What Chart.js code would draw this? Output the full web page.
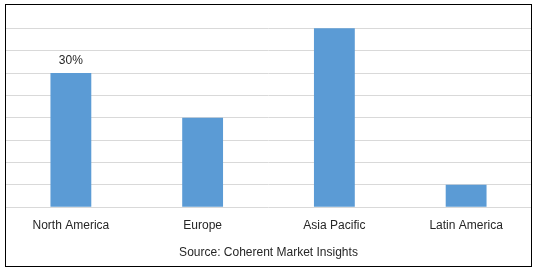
<!DOCTYPE html>
<html>
<head>
<meta charset="utf-8">
<script src="https://cdn.jsdelivr.net/npm/chart.js@4/dist/chart.umd.min.js"></script>
<style>
  html, body { margin: 0; padding: 0; background: #fff; }
  #wrap { position: relative; width: 538px; height: 272px; }
</style>
</head>
<body>
<div id="wrap"><canvas id="chart"></canvas></div>
<script>
// regional share (%)
const regions = ['North America', 'Europe', 'Asia Pacific', 'Latin America'];
const shares = [30, 20, 40, 5];
const shareLabels = ['30%', '', '', ''];
const sourceText = 'Source: Coherent Market Insights';

const TEXT = '#262626';
const FONT = 'Liberation Sans';

// outer frame round the whole chart
const framePlugin = {
  id: 'frame',
  afterDraw(chart) {
    const ctx = chart.ctx;
    ctx.save();
    ctx.strokeStyle = '#000';
    ctx.lineWidth = 1;
    ctx.strokeRect(5.5, 4.5, 526, 262);
    ctx.restore();
  }
};

// value label above a bar (only where one is given)
const valueLabels = {
  id: 'valueLabels',
  afterDatasetsDraw(chart) {
    const ctx = chart.ctx;
    const meta = chart.getDatasetMeta(0);
    ctx.save();
    ctx.font = '12px "' + FONT + '"';
    ctx.fillStyle = TEXT;
    ctx.textAlign = 'center';
    ctx.textBaseline = 'bottom';
    meta.data.forEach((bar, i) => {
      if (shareLabels[i]) ctx.fillText(shareLabels[i], bar.x, bar.y - 6);
    });
    ctx.restore();
  }
};

new Chart(document.getElementById('chart'), {
  type: 'bar',
  data: {
    labels: regions,
    datasets: [{
      data: shares,
      backgroundColor: '#5B9BD5',
      borderWidth: 0,
      categoryPercentage: 1,
      barPercentage: 0.31,
    }]
  },
  options: {
    responsive: true,
    maintainAspectRatio: false,
    animation: false,
    layout: { padding: { left: 5, right: 6, top: 6, bottom: 6 } },
    plugins: {
      legend: { display: false },
      tooltip: { enabled: false },
      title: {
        display: true,
        position: 'bottom',
        text: sourceText,
        color: TEXT,
        font: { family: FONT, size: 12, weight: 'normal' },
        padding: { top: 2, bottom: 6 }
      }
    },
    scales: {
      x: {
        grid: { display: false, drawTicks: false },
        border: { display: false },
        ticks: { color: TEXT, font: { family: FONT, size: 12 }, padding: 11, maxRotation: 0 }
      },
      y: {
        min: 0, max: 45,
        border: { display: false },
        grid: {
          drawTicks: false,
          color: c => (c.tick && c.tick.value === 45) ? 'rgba(0,0,0,0)' : '#D9D9D9'
        },
        ticks: { display: false, stepSize: 5 }
      }
    }
  },
  plugins: [framePlugin, valueLabels]
});
</script>
</body>
</html>
